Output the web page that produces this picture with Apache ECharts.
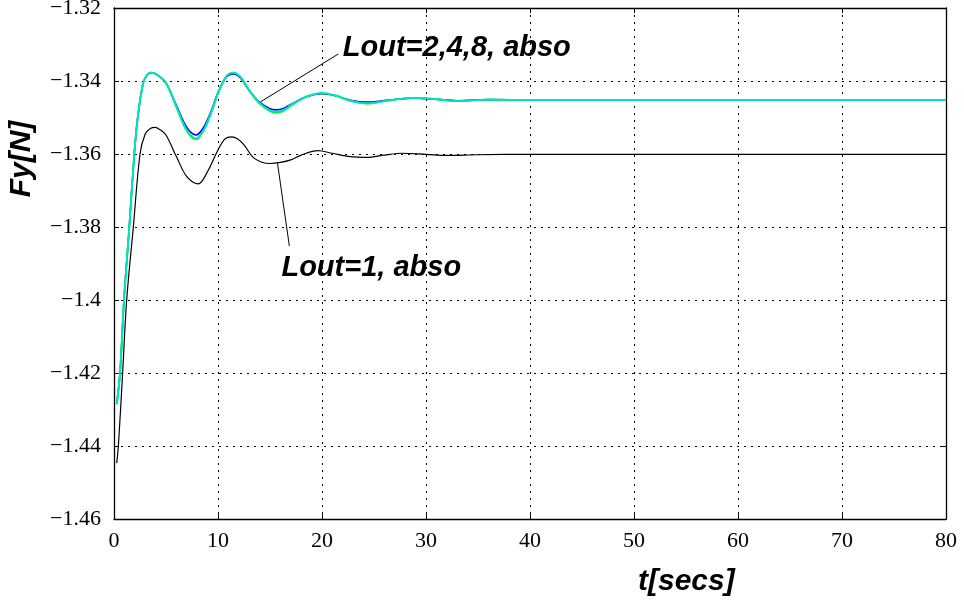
<!DOCTYPE html>
<html>
<head>
<meta charset="utf-8">
<script src="https://cdn.jsdelivr.net/npm/echarts@6/dist/echarts.min.js"></script>
<style>
  html, body { margin: 0; padding: 0; background: #fff; }
  #chart { width: 964px; height: 604px; }
</style>
</head>
<body>
<div id="chart"></div>
<script>
// Lateral force Fy over time, for several Lout settings (absorbing boundary)
const xTicks = [0, 10, 20, 30, 40, 50, 60, 70, 80];
const yTicks = [-1.46, -1.44, -1.42, -1.40, -1.38, -1.36, -1.34, -1.32];

// Lout = 1
const lout1 = [
  [0.26, -1.4447], [0.42, -1.440], [0.83, -1.420], [1.22, -1.400], [1.86, -1.380],
  [2.5, -1.360], [3.0, -1.3545], [3.5, -1.3530], [3.94, -1.3527], [4.5, -1.3535],
  [5.0, -1.3548], [6.0, -1.3607], [7.0, -1.3662], [8.1, -1.3682], [9.0, -1.3648],
  [10.0, -1.3589], [10.7, -1.3558], [11.3, -1.3553], [11.9, -1.3559], [12.5, -1.3575],
  [13.5, -1.3612], [15.0, -1.3626], [16.0, -1.3623], [17.0, -1.3616], [18.0, -1.3603],
  [19.6, -1.3591], [21.0, -1.3598], [22.7, -1.3607], [24.3, -1.3609], [26.0, -1.3603],
  [27.7, -1.3598], [30.0, -1.3601], [32.0, -1.3604], [35.0, -1.3602], [40.0, -1.3601],
  [50.0, -1.3601], [60.0, -1.3601], [70.0, -1.3601], [80.0, -1.3601]
];

// Lout = 2
const lout2 = [
  [0.26, -1.4285], [0.58, -1.420], [0.96, -1.400], [1.47, -1.380], [1.95, -1.360],
  [2.28, -1.350], [2.8, -1.3406], [3.2, -1.3383], [3.62, -1.3377], [4.2, -1.3384],
  [5.0, -1.3405], [6.0, -1.3467], [7.0, -1.3527], [7.9, -1.3548], [8.6, -1.3528],
  [9.3, -1.3486], [10.0, -1.3432], [10.8, -1.3390], [11.5, -1.3381], [12.2, -1.3393],
  [13.0, -1.3426], [14.0, -1.3458], [15.0, -1.3476], [15.6, -1.3479], [16.3, -1.3475],
  [17.0, -1.3464], [18.5, -1.3443], [20.0, -1.3435], [21.5, -1.3442], [22.5, -1.3451],
  [24.3, -1.3458], [26.5, -1.3452], [28.8, -1.3447], [31.0, -1.3450], [33.0, -1.3454],
  [36.0, -1.3451], [40.0, -1.3452], [50.0, -1.3452], [60.0, -1.3452], [70.0, -1.3452],
  [80.0, -1.3452]
];

// Lout = 4
const lout4 = [
  [0.26, -1.4285], [0.58, -1.420], [0.96, -1.400], [1.47, -1.380], [1.95, -1.360],
  [2.28, -1.350], [2.8, -1.3406], [3.2, -1.3383], [3.62, -1.3377], [4.2, -1.3384],
  [5.0, -1.3406], [6.0, -1.3472], [7.0, -1.3537], [7.9, -1.3560], [8.6, -1.3537],
  [9.3, -1.3491], [10.0, -1.3434], [10.8, -1.3387], [11.5, -1.3377], [12.2, -1.3390],
  [13.0, -1.3426], [14.0, -1.3462], [15.0, -1.3483], [15.6, -1.3487], [16.3, -1.3482],
  [17.0, -1.3468], [18.5, -1.3443], [20.0, -1.3433], [21.5, -1.3442], [22.5, -1.3453],
  [24.3, -1.3462], [26.5, -1.3453], [28.8, -1.3446], [31.0, -1.3450], [33.0, -1.3455],
  [36.0, -1.3451], [40.0, -1.3452], [50.0, -1.3452], [60.0, -1.3452], [70.0, -1.3452],
  [80.0, -1.3452]
];

// Lout = 8
const lout8 = [
  [0.26, -1.4285], [0.58, -1.420], [0.96, -1.400], [1.47, -1.380], [1.95, -1.360],
  [2.28, -1.350], [2.8, -1.3406], [3.2, -1.3383], [3.62, -1.3377], [4.2, -1.3384],
  [5.0, -1.3405], [6.0, -1.3470], [7.0, -1.3534], [7.9, -1.3557], [8.6, -1.3535],
  [9.3, -1.3490], [10.0, -1.3434], [10.8, -1.3388], [11.5, -1.3378], [12.2, -1.3390],
  [13.0, -1.3425], [14.0, -1.3460], [15.0, -1.3480], [15.6, -1.3484], [16.3, -1.3479],
  [17.0, -1.3466], [18.5, -1.3443], [20.0, -1.3433], [21.5, -1.3441], [22.5, -1.3452],
  [24.3, -1.3461], [26.5, -1.3453], [28.8, -1.3446], [31.0, -1.3450], [33.0, -1.3455],
  [36.0, -1.3451], [40.0, -1.3452], [50.0, -1.3452], [60.0, -1.3452], [70.0, -1.3452],
  [80.0, -1.3452]
];

// Annotation leader lines and label anchors, in data units (t, Fy)
const leaderUpper = [[14.1, -1.3457], [21.57, -1.3326]];
const leaderLower = [[15.72, -1.3625], [16.86, -1.3852]];
const labelUpper = { text: 'Lout=2,4,8, abso', at: [22.0, -1.3310] };
const labelLower = { text: 'Lout=1, abso', at: [16.1, -1.3912] };

const xTitle = 't[secs]';
const yTitle = 'Fy[N]';

const fmtY = v => {
  const s = (Math.round(v * 100) / 100).toString();
  return s.replace('-', '\u2212');
};

const chart = echarts.init(document.getElementById('chart'), null, { renderer: 'canvas' });

const tickFont = { fontFamily: 'Liberation Serif', fontSize: 22, color: '#000' };
const boldItalic = size => 'italic bold ' + size + 'px "Liberation Sans"';
const gridLine = { show: true, lineStyle: { color: '#000', width: 1, type: [2, 5] } };
const boxLine = { show: true, onZero: false, lineStyle: { color: '#000', width: 1.3 } };
const tick = { show: true, inside: true, length: 5, lineStyle: { color: '#000', width: 1 } };

function lineSeries(name, data, color, width, z) {
  return {
    name, type: 'line', data, xAxisIndex: 0, yAxisIndex: 0,
    showSymbol: false, symbol: 'none', smooth: 0.35, z,
    lineStyle: { color, width }, silent: true, animation: false
  };
}

function leader(data) {
  return {
    type: 'line', data, xAxisIndex: 0, yAxisIndex: 0, showSymbol: false, symbol: 'none',
    lineStyle: { color: '#000', width: 1 }, silent: true, animation: false, z: 10
  };
}

chart.setOption({
  animation: false,
  backgroundColor: '#fff',
  grid: { left: 114, right: 18, top: 8, bottom: 85, containLabel: false, outerBoundsMode: 'none' },
  xAxis: [
    {
      type: 'value', min: xTicks[0], max: xTicks[xTicks.length - 1], interval: 10,
      position: 'bottom', axisLine: boxLine, axisTick: tick, splitLine: gridLine,
      axisLabel: { ...tickFont, margin: 11 }
    },
    {
      type: 'value', min: xTicks[0], max: xTicks[xTicks.length - 1], interval: 10,
      position: 'top', axisLine: boxLine, axisTick: tick, splitLine: { show: false },
      axisLabel: { show: false }
    }
  ],
  yAxis: [
    {
      type: 'value', min: yTicks[0], max: yTicks[yTicks.length - 1], interval: 0.02,
      position: 'left', axisLine: boxLine, axisTick: tick, splitLine: gridLine,
      axisLabel: { ...tickFont, margin: 13, formatter: fmtY, padding: [5, 0, 0, 0] }
    },
    {
      type: 'value', min: yTicks[0], max: yTicks[yTicks.length - 1], interval: 0.02,
      position: 'right', axisLine: boxLine, axisTick: tick, splitLine: { show: false },
      axisLabel: { show: false }
    }
  ],
  series: [
    lineSeries('Lout=1', lout1, '#000000', 1.2, 2),
    lineSeries('Lout=2', lout2, '#0000ff', 1.6, 3),
    lineSeries('Lout=4', lout4, '#00ff00', 1.8, 4),
    lineSeries('Lout=8', lout8, '#00e0d0', 1.8, 5),
    leader(leaderUpper),
    leader(leaderLower)
  ]
});

// Curve labels at their data anchors
function labelGraphic(lbl) {
  const p = chart.convertToPixel({ gridIndex: 0 }, lbl.at);
  return {
    type: 'text', x: p[0], y: p[1], z: 20, silent: true,
    style: {
      text: lbl.text, fill: '#000', font: boldItalic(29),
      textAlign: 'left', textVerticalAlign: 'middle', verticalAlign: 'middle'
    }
  };
}

// Axis titles
const titles = [
  {
    type: 'text', x: 22, y: 159, rotation: Math.PI / 2, z: 20, silent: true,
    style: { text: yTitle, fill: '#000', font: boldItalic(30), textAlign: 'center', verticalAlign: 'middle', textVerticalAlign: 'middle' }
  },
  {
    type: 'text', x: 638, y: 582, z: 20, silent: true,
    style: { text: xTitle, fill: '#000', font: boldItalic(30), textAlign: 'left', verticalAlign: 'middle', textVerticalAlign: 'middle' }
  }
];

chart.setOption({ graphic: [labelGraphic(labelUpper), labelGraphic(labelLower), ...titles] });
</script>
</body>
</html>
